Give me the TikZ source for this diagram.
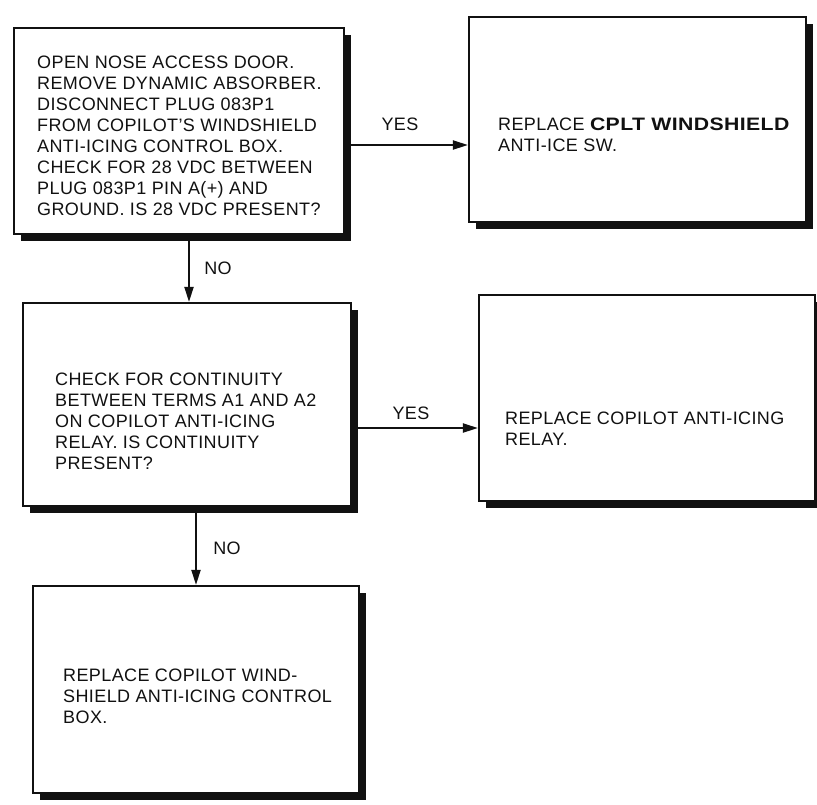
\documentclass[tikz,border=0pt]{standalone}
\usepackage{fontspec}
\setmainfont{Liberation Sans}[LetterSpace=2.2]
\usepackage{tikz}
\usetikzlibrary{arrows.meta,calc,shadows}
\definecolor{murekkep}{HTML}{111111}

\begin{document}
\begin{tikzpicture}[x=1pt,y=1pt,
  kutu/.style={draw=murekkep,line width=2.2pt,fill=white,inner sep=0pt,
    drop shadow={shadow xshift=7pt,shadow yshift=-7pt,fill=murekkep,opacity=1}},
  yazi/.style={anchor=north west,inner sep=0pt,align=left,text=murekkep,
    font=\fontsize{18}{21}\selectfont},
  etiket/.style={inner sep=0pt,text=murekkep,font=\fontsize{18}{21}\selectfont},
  akis/.style={murekkep,line width=2.2pt,-{Triangle[length=15pt,width=9pt]}}]
\useasboundingbox (0,0) rectangle (817,-804);
% kutular
\node[kutu,minimum width=330,minimum height=206] (voltCheck) at (179,-131) {};
\node[kutu,minimum width=337,minimum height=205] (replaceSwitch) at (637.5,-119.5) {};
\node[kutu,minimum width=328,minimum height=203] (contCheck) at (187,-404.5) {};
\node[kutu,minimum width=336,minimum height=206] (replaceRelay) at (647,-398) {};
\node[kutu,minimum width=326,minimum height=207] (replaceBox) at (196,-689.5) {};
% yazilar
\node[yazi] (voltCheckText) at (37,-56) {OPEN NOSE ACCESS DOOR.\\
  REMOVE DYNAMIC ABSORBER.\\DISCONNECT PLUG 083P1\\FROM COPILOT'S WINDSHIELD\\
  ANTI-ICING CONTROL BOX.\\CHECK FOR 28 VDC BETWEEN\\PLUG 083P1 PIN A(+) AND\\
  GROUND. IS 28 VDC PRESENT?};
\node[yazi] (replaceSwitchText) at (498,-118) {REPLACE
  {\bfseries\addfontfeature{FakeStretch=1.18}CPLT WINDSHIELD}\\ANTI-ICE SW.};
\node[yazi] (contCheckText) at (55,-373) {CHECK FOR CONTINUITY\\BETWEEN TERMS A1 AND A2\\
  ON COPILOT ANTI-ICING\\RELAY. IS CONTINUITY\\PRESENT?};
\node[yazi] (replaceRelayText) at (505,-412) {REPLACE COPILOT ANTI-ICING\\RELAY.};
\node[yazi] (replaceBoxText) at (63,-669) {REPLACE COPILOT WIND-\\
  SHIELD ANTI-ICING CONTROL\\BOX.};
% oklar
\draw[akis] ([yshift=-14pt]voltCheck.east) -- ([yshift=-14pt]voltCheck.east -| replaceSwitch.west);
\draw[akis] ([xshift=10pt]voltCheck.south) -- ([xshift=10pt]voltCheck.south |- contCheck.north);
\draw[akis] ([yshift=-23.5pt]contCheck.east) -- ([yshift=-23.5pt]contCheck.east -| replaceRelay.west);
\draw[akis] (replaceBox.north |- contCheck.south) -- (replaceBox.north);
\node[etiket] (yesSwitch) at (400,-124) {YES};
\node[etiket] (noVolt) at (218,-268) {NO};
\node[etiket] (yesRelay) at (411,-413) {YES};
\node[etiket] (noCont) at (227,-548) {NO};
\end{tikzpicture}
\end{document}
